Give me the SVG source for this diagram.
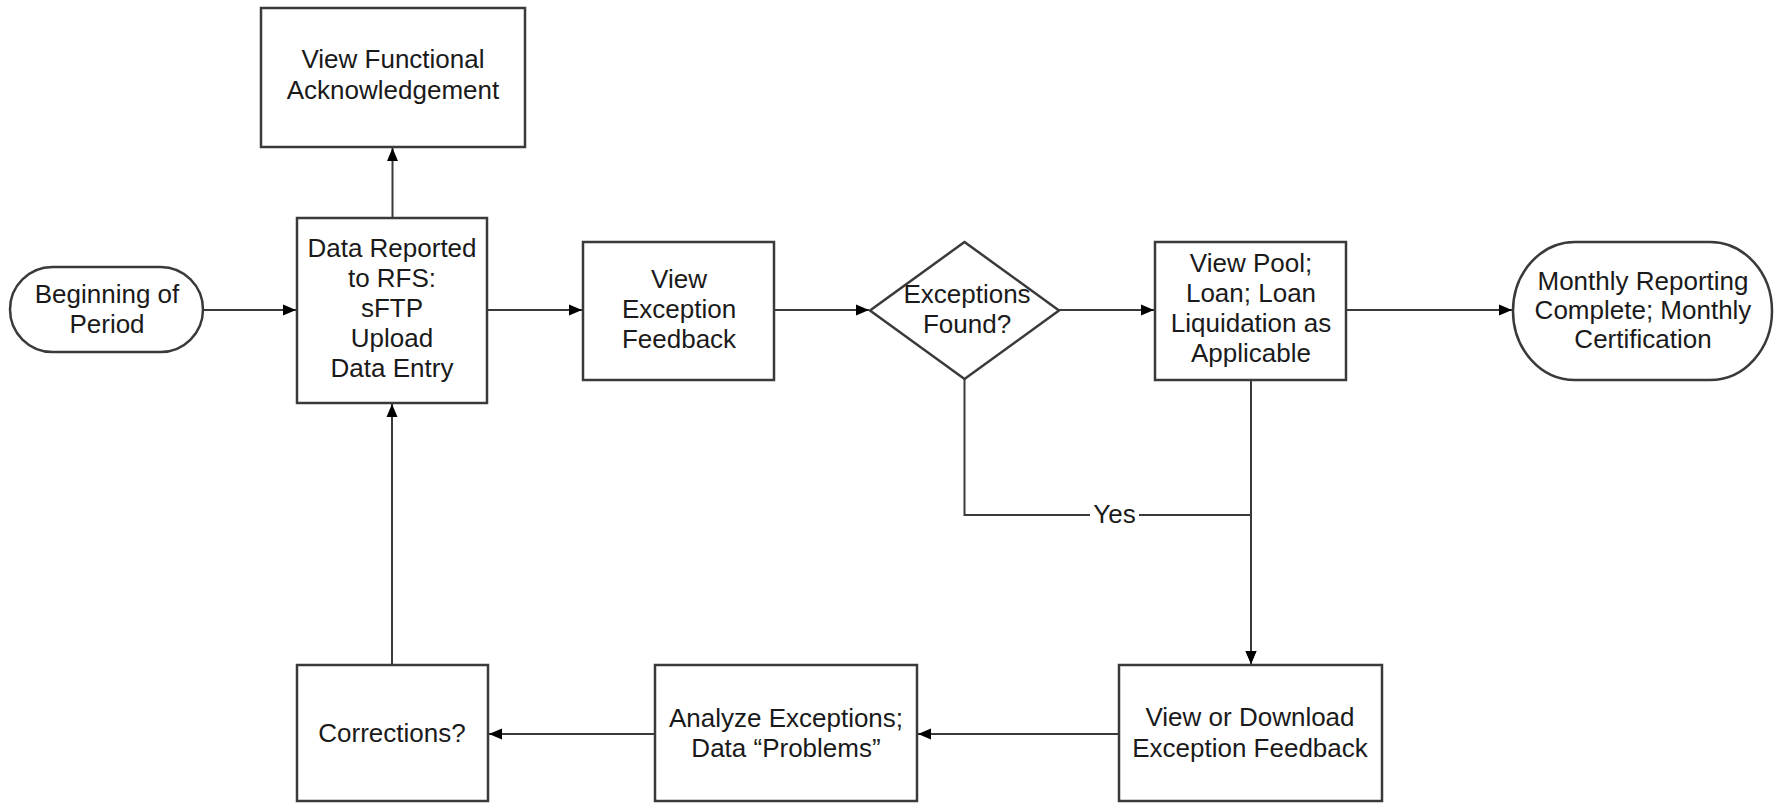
<svg xmlns="http://www.w3.org/2000/svg" width="1785" height="803" viewBox="0 0 1785 803">
<style>
.box{fill:#fff;stroke:#3a3a3a;stroke-width:2.5}
.ln{fill:none;stroke:#3a3a3a;stroke-width:2}
.t{font-family:"Liberation Sans",Arial,sans-serif;font-size:26px;fill:#1a1a1a;text-anchor:middle}
</style>
<defs>
<marker id="arr" markerUnits="userSpaceOnUse" markerWidth="14" markerHeight="12" refX="13" refY="6" orient="auto">
<path d="M0,0.5 L13,6 L0,11.5 z" fill="#000"/>
</marker>
</defs>
<rect width="1785" height="803" fill="#fff"/>
<g id="connectors">
<line class="ln" x1="203" y1="310" x2="296" y2="310" marker-end="url(#arr)"/>
<line class="ln" x1="392.5" y1="218" x2="392.5" y2="148" marker-end="url(#arr)"/>
<line class="ln" x1="487" y1="310" x2="582" y2="310" marker-end="url(#arr)"/>
<line class="ln" x1="774" y1="310" x2="869" y2="310" marker-end="url(#arr)"/>
<line class="ln" x1="1059" y1="310" x2="1154" y2="310" marker-end="url(#arr)"/>
<line class="ln" x1="1346" y1="310" x2="1512" y2="310" marker-end="url(#arr)"/>
<path class="ln" d="M964.5,379 V515 H1251 V664" marker-end="url(#arr)"/>
<line class="ln" x1="1251" y1="380" x2="1251" y2="664" marker-end="url(#arr)"/>
<line class="ln" x1="1119" y1="734" x2="918" y2="734" marker-end="url(#arr)"/>
<line class="ln" x1="655" y1="734" x2="489" y2="734" marker-end="url(#arr)"/>
<line class="ln" x1="392" y1="665" x2="392" y2="404" marker-end="url(#arr)"/>
<rect x="1090" y="503" width="49" height="24" fill="#fff"/>
<text class="t" x="1114.5" y="523">Yes</text>
</g>
<g id="n-ack">
<rect class="box" x="261" y="8" width="264" height="139"/>
<text class="t" x="393" y="68">View Functional</text>
<text class="t" x="393" y="99">Acknowledgement</text>
</g>
<g id="n-begin">
<rect class="box" x="10" y="267" width="193" height="85" rx="42.5" ry="42.5"/>
<text class="t" x="107" y="303">Beginning of</text>
<text class="t" x="107" y="333">Period</text>
</g>
<g id="n-data">
<rect class="box" x="297" y="218" width="190" height="185"/>
<text class="t" x="392" y="257">Data Reported</text>
<text class="t" x="392" y="287">to RFS:</text>
<text class="t" x="392" y="317">sFTP</text>
<text class="t" x="392" y="347">Upload</text>
<text class="t" x="392" y="377">Data Entry</text>
</g>
<g id="n-viewexc">
<rect class="box" x="583" y="242" width="191" height="138"/>
<text class="t" x="679" y="288">View</text>
<text class="t" x="679" y="318">Exception</text>
<text class="t" x="679" y="348">Feedback</text>
</g>
<g id="n-decision">
<polygon class="box" points="964.5,242 1059,310.5 964.5,379 870,310.5"/>
<text class="t" x="967" y="303">Exceptions</text>
<text class="t" x="967" y="333">Found?</text>
</g>
<g id="n-pool">
<rect class="box" x="1155" y="242" width="191" height="138"/>
<text class="t" x="1251" y="272">View Pool;</text>
<text class="t" x="1251" y="302">Loan; Loan</text>
<text class="t" x="1251" y="332">Liquidation as</text>
<text class="t" x="1251" y="362">Applicable</text>
</g>
<g id="n-monthly">
<rect class="box" x="1513" y="242" width="259" height="138" rx="62" ry="69"/>
<text class="t" x="1643" y="290">Monthly Reporting</text>
<text class="t" x="1643" y="319">Complete; Monthly</text>
<text class="t" x="1643" y="348">Certification</text>
</g>
<g id="n-download">
<rect class="box" x="1119" y="665" width="263" height="136"/>
<text class="t" x="1250" y="726">View or Download</text>
<text class="t" x="1250" y="757">Exception Feedback</text>
</g>
<g id="n-analyze">
<rect class="box" x="655" y="665" width="262" height="136"/>
<text class="t" x="786" y="727">Analyze Exceptions;</text>
<text class="t" x="786" y="757">Data “Problems”</text>
</g>
<g id="n-corrections">
<rect class="box" x="297" y="665" width="191" height="136"/>
<text class="t" x="392" y="742">Corrections?</text>
</g>
</svg>
